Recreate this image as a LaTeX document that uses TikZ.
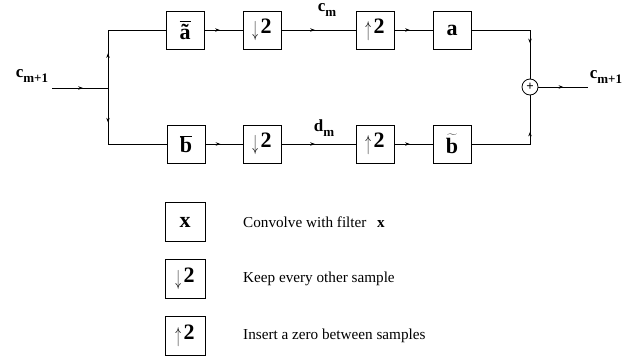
\documentclass[tikz,border=0pt]{standalone}
\usepackage{fontspec}
\usepackage{graphicx}
\setmainfont{Liberation Serif}
\usetikzlibrary{arrows.meta,decorations.markings}
\tikzset{
  blk/.style={draw,line width=0.8pt,minimum width=38pt,minimum height=38pt,inner sep=0pt,font=\fontsize{22}{26}\selectfont\bfseries},
  legblk/.style={blk,minimum width=40pt,minimum height=39pt},
  lbl/.style={inner sep=0pt,font=\fontsize{17}{20}\selectfont\bfseries},
  legtxt/.style={anchor=west,inner sep=0pt,font=\fontsize{15.2}{18}\selectfont},
  conn/.style={line width=0.8pt},
  arrat/.style={postaction={decorate},decoration={markings,mark=at position #1 with {\arrow{Stealth[length=4.5pt,width=3.5pt]}}}},
  sumnode/.style={draw,circle,line width=0.8pt,minimum size=16pt,inner sep=0pt,font=\fontsize{13}{13}\selectfont\bfseries}
}
\newcommand{\sbs}[1]{\raisebox{-0.25em}{\fontsize{13}{14}\selectfont #1}}
\newcommand{\dnarr}{\raisebox{-0.12em}{\scalebox{0.55}[1.05]{\fontsize{20}{20}\selectfont$\downarrow$}}\hspace{0.12em}}
\newcommand{\uparr}{\raisebox{-0.12em}{\scalebox{0.55}[1.05]{\fontsize{20}{20}\selectfont$\uparrow$}}\hspace{0.12em}}
\begin{document}
\begin{tikzpicture}[x=1pt,y=-1pt]
\useasboundingbox (0,0) rectangle (636,359);
% labels
\node[lbl] (lin) at (32,76) {c\sbs{m+1}};
\node[lbl] (lout) at (606,77) {c\sbs{m+1}};
\node[lbl] (lcm) at (327,10) {c\sbs{m}};
\node[lbl] (ldm) at (324,128) {d\sbs{m}};
% coordinates
\coordinate (cin) at (52,88);
\coordinate (jn) at (108,88);
\coordinate (jt) at (108,30);
\coordinate (jb) at (108,144);
\coordinate (rt) at (530,30);
\coordinate (rb) at (530,144);
\coordinate (cout) at (588,87);
% blocks top
\node[blk] (A1) at (185,30) {$\overline{\raisebox{0pt}[1.12\height]{\bfseries ã}}$};
\node[blk] (D1) at (262,30) {\dnarr 2};
\node[blk] (U1) at (375,30) {\uparr 2};
\node[blk] (F1) at (452,30) {a};
% blocks bottom
\node[blk] (B1) at (186,144) {$\overline{\mbox{\bfseries b}}$};
\node[blk] (D2) at (262,144) {\dnarr 2};
\node[blk] (U2) at (375,144) {\uparr 2};
\node[blk] (F2) at (452,144) {$\widetilde{\raisebox{0pt}[1.1\height]{\bfseries b}}$};
% sum
\node[sumnode] (S) at (530,87) {+};
% connectors
\draw[conn,arrat=0.55] (cin) -- (jn);
\draw[conn,arrat=0.3] (jn) -- (jt) -- (A1.west);
\draw[conn,arrat=0.3] (jn) -- (jb) -- (B1.west);
\draw[conn,arrat=0.4] (A1) -- (D1);
\draw[conn,arrat=0.45] (D1) -- (U1);
\draw[conn,arrat=0.4] (U1) -- (F1);
\draw[conn,arrat=0.4] (B1) -- (D2);
\draw[conn,arrat=0.45] (D2) -- (U2);
\draw[conn,arrat=0.4] (U2) -- (F2);
\draw[conn,arrat=0.67] (F1.east) -- (rt) -- (S.north);
\draw[conn,arrat=0.66] (F2.east) -- (rb) -- (S.south);
\draw[conn,arrat=0.5] (S.east) -- (cout);
% legend
\node[legblk] (L1) at (185,222) {x};
\node[legblk] (L2) at (185,279) {\dnarr 2};
\node[legblk] (L3) at (185,336) {\uparr 2};
\node[legtxt] (T1) at (243,222) {Convolve with filter\hspace{0.7em}\textbf{x}};
\node[legtxt] (T2) at (243,279) {Keep every other sample};
\node[legtxt] (T3) at (243,336) {Insert a zero between samples};
\end{tikzpicture}
\end{document}
